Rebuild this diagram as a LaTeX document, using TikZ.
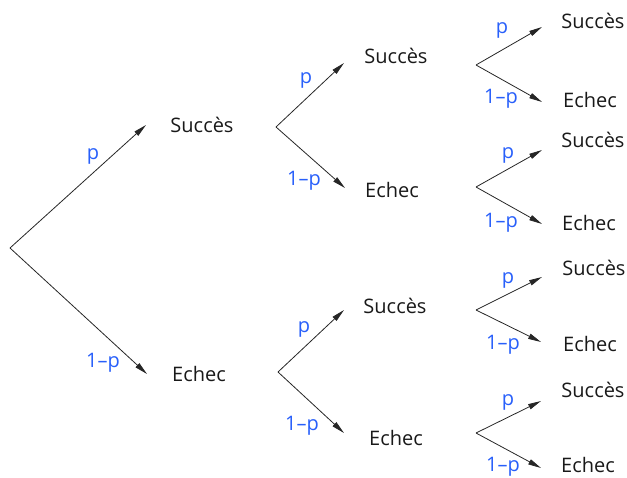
\documentclass[tikz,border=0pt]{standalone}
\usepackage{fontspec}
\setmainfont{Open Sans}
\usetikzlibrary{arrows.meta}
\definecolor{lblue}{RGB}{40,95,250}
\begin{document}
\begin{tikzpicture}[x=1pt,y=-1pt,
  branch/.style={draw=black!85, line width=0.8pt, -{Triangle[length=13pt,width=5.5pt]}},
  outcome/.style={anchor=base, inner sep=0pt, font=\fontsize{20}{24}\selectfont, text=black!90},
  prob/.style={anchor=base, inner sep=0pt, font=\fontsize{20}{24}\selectfont, text=lblue}]
\useasboundingbox (0,0) rectangle (627,477);
% fork points
\coordinate (r) at (10,248);
\coordinate (a) at (276,127);
\coordinate (b) at (278,372);
\coordinate (aa) at (476,65);
\coordinate (ab) at (476,187);
\coordinate (ba) at (476,310);
\coordinate (bb) at (476,433);
% arrow tips
\coordinate (tA) at (146,125);
\coordinate (tB) at (147,374);
\coordinate (taa) at (344,63);
\coordinate (tab) at (345,188);
\coordinate (tba) at (344,310);
\coordinate (tbb) at (344,433);
\coordinate (taaS) at (542,27);
\coordinate (taaE) at (542,102);
\coordinate (tabS) at (542,150);
\coordinate (tabE) at (542,224);
\coordinate (tbaS) at (542,277);
\coordinate (tbaE) at (541,342);
\coordinate (tbbS) at (541,401);
\coordinate (tbbE) at (541,468);
% branches
\draw[branch] (r) -- (tA);
\draw[branch] (r) -- (tB);
\draw[branch] (a) -- (taa);
\draw[branch] (a) -- (tab);
\draw[branch] (b) -- (tba);
\draw[branch] (b) -- (tbb);
\draw[branch] (aa) -- (taaS);
\draw[branch] (aa) -- (taaE);
\draw[branch] (ab) -- (tabS);
\draw[branch] (ab) -- (tabE);
\draw[branch] (ba) -- (tbaS);
\draw[branch] (ba) -- (tbaE);
\draw[branch] (bb) -- (tbbS);
\draw[branch] (bb) -- (tbbE);
% outcomes
\node[outcome] (oA) at (202,132) {Succès};
\node[outcome] (oB) at (199,381) {Echec};
\node[outcome] (oaa) at (396,63) {Succès};
\node[outcome] (oab) at (392,197) {Echec};
\node[outcome] (oba) at (395,313) {Succès};
\node[outcome] (obb) at (396,445) {Echec};
\node[outcome] (oaaS) at (593,28) {Succès};
\node[outcome] (oaaE) at (590,107) {Echec};
\node[outcome] (oabS) at (593,147) {Succès};
\node[outcome] (oabE) at (589,230) {Echec};
\node[outcome] (obaS) at (594,275) {Succès};
\node[outcome] (obaE) at (590,351) {Echec};
\node[outcome] (obbS) at (593,397) {Succès};
\node[outcome] (obbE) at (588,472) {Echec};
% probabilities
\node[prob] (pA) at (93,159) {p};
\node[prob] (pB) at (103,367) {1–p};
\node[prob] (paa) at (306,83) {p};
\node[prob] (pab) at (304,185) {1–p};
\node[prob] (pba) at (304,332) {p};
\node[prob] (pbb) at (302,430) {1–p};
\node[prob] (paaS) at (502,33) {p};
\node[prob] (paaE) at (501,103) {1–p};
\node[prob] (pabS) at (508,158) {p};
\node[prob] (pabE) at (501,227) {1–p};
\node[prob] (pbaS) at (508,283) {p};
\node[prob] (pbaE) at (503,349) {1–p};
\node[prob] (pbbS) at (508,405) {p};
\node[prob] (pbbE) at (503,471) {1–p};
\end{tikzpicture}
\end{document}
